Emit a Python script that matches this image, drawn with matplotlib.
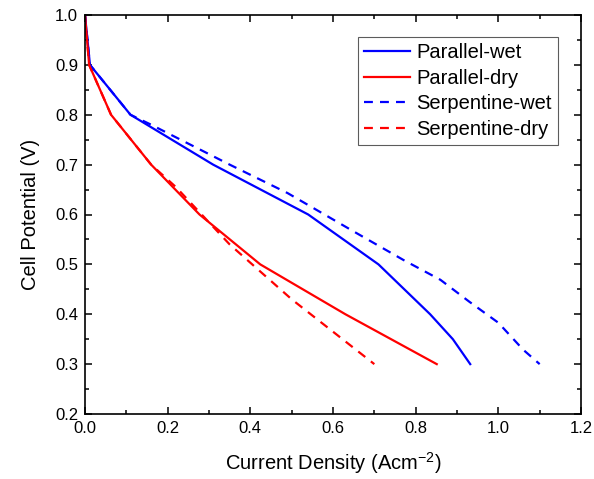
import matplotlib
matplotlib.use("Agg")
import matplotlib.pyplot as plt
from matplotlib.ticker import MultipleLocator

plt.rcParams['font.family'] = ['Liberation Sans', 'DejaVu Sans']

# Data
pw_x = [0.0, 0.012, 0.11, 0.31, 0.54, 0.71, 0.835, 0.89, 0.932]
pw_y = [1.0, 0.9, 0.8, 0.7, 0.6, 0.5, 0.4, 0.35, 0.3]

pd_x = [0.0, 0.01, 0.063, 0.16, 0.277, 0.424, 0.63, 0.851]
pd_y = [1.0, 0.9, 0.8, 0.7, 0.6, 0.5, 0.4, 0.3]

sw_x = [0.0, 0.012, 0.11, 0.16, 0.35, 0.49, 0.65, 0.77, 0.86, 0.93, 1.0, 1.06, 1.1]
sw_y = [1.0, 0.9, 0.8, 0.78, 0.7, 0.643, 0.566, 0.509, 0.469, 0.425, 0.383, 0.329, 0.3]

sd_x = [0.0, 0.01, 0.063, 0.16, 0.22, 0.35, 0.5, 0.6, 0.7]
sd_y = [1.0, 0.9, 0.8, 0.7, 0.655, 0.54, 0.43, 0.365, 0.3]

labels = ["Parallel-wet", "Parallel-dry", "Serpentine-wet", "Serpentine-dry"]

fig = plt.figure(figsize=(5.94, 4.79), dpi=100)
ax = fig.add_axes([85/594, 1-414/479, (581-85)/594, (414-15)/479])

lw = 1.6
dash = (0, (4, 3.2))
ax.plot(pw_x, pw_y, color='#0000ff', lw=lw, label=labels[0])
ax.plot(pd_x, pd_y, color='#ff0000', lw=lw, label=labels[1])
ax.plot(sw_x, sw_y, color='#0000ff', lw=lw, ls=dash, label=labels[2])
ax.plot(sd_x, sd_y, color='#ff0000', lw=lw, ls=dash, label=labels[3])

ax.set_xlim(0, 1.2)
ax.set_ylim(0.2, 1.0)
ax.xaxis.set_major_locator(MultipleLocator(0.2))
ax.xaxis.set_minor_locator(MultipleLocator(0.1))
ax.yaxis.set_major_locator(MultipleLocator(0.1))
ax.yaxis.set_minor_locator(MultipleLocator(0.05))
ax.xaxis.set_major_formatter(matplotlib.ticker.FormatStrFormatter('%.1f'))
ax.yaxis.set_major_formatter(matplotlib.ticker.FormatStrFormatter('%.1f'))

ax.tick_params(which='both', direction='in', top=True, right=True, width=1.1, labelsize=12)
ax.tick_params(which='major', length=5, pad=5)
ax.tick_params(which='minor', length=3)
for s in ax.spines.values():
    s.set_linewidth(1.2)

ax.set_xlabel("Current Density (Acm$^{\\mathregular{-2}}$)", fontsize=14.5, labelpad=10)
ax.set_ylabel("Cell Potential (V)", fontsize=14.5, labelpad=11)

leg = ax.legend(loc='upper right', bbox_to_anchor=(558/594, 1-37/479), bbox_transform=fig.transFigure,
                fontsize=14.5, frameon=True, fancybox=False, edgecolor='#333333',
                handlelength=2.3, handletextpad=0.3, labelspacing=0.33, borderpad=0.3, borderaxespad=0)
leg.get_frame().set_linewidth(0.8)

fig.savefig("out.png", dpi=100)
